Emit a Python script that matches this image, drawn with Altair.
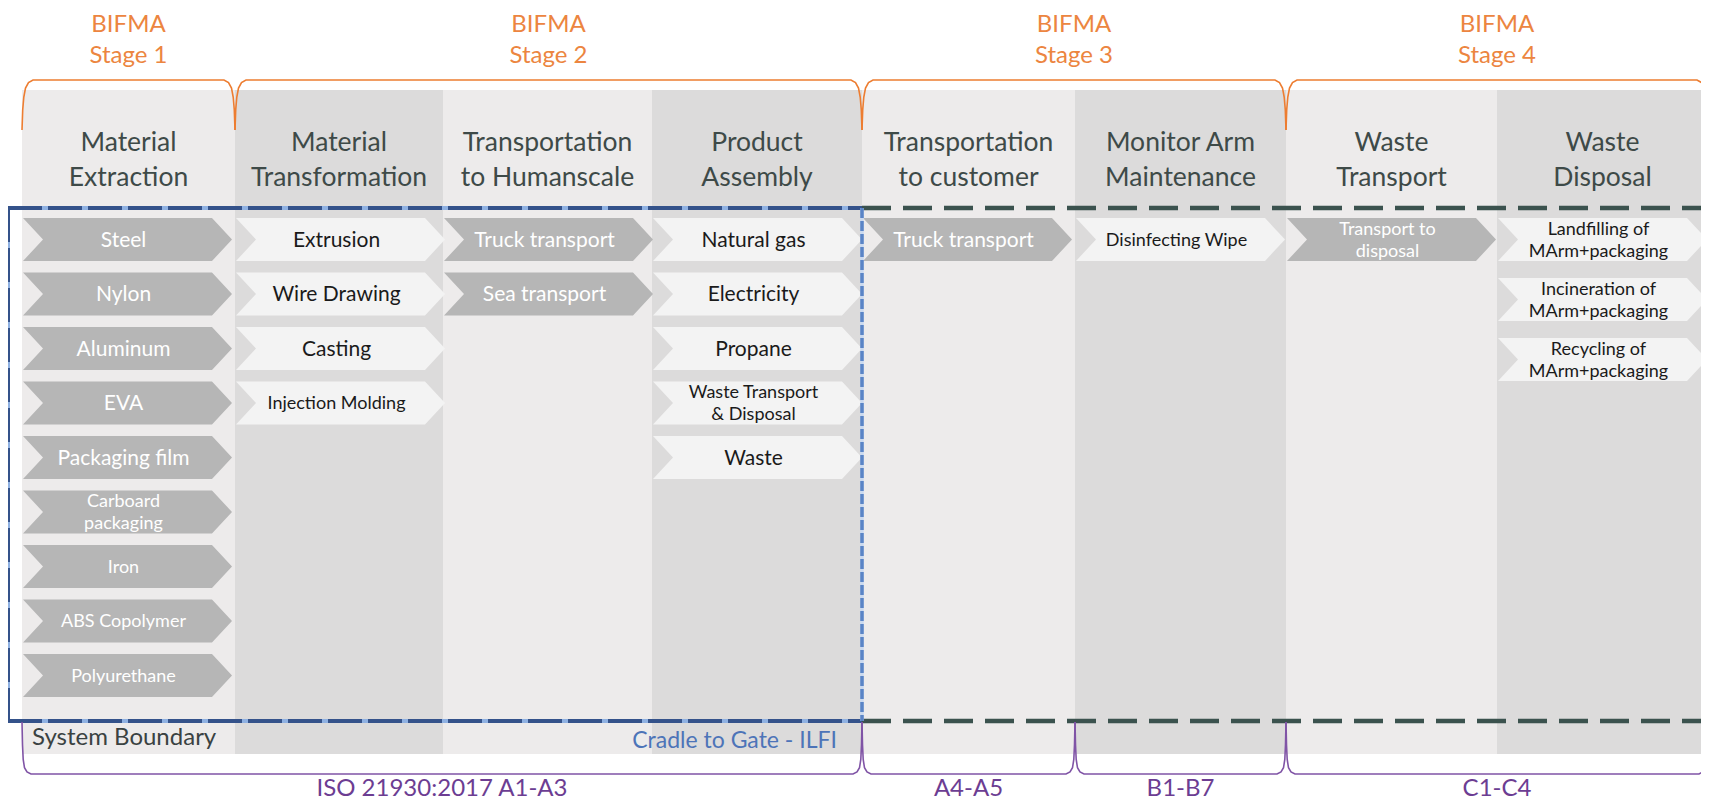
import altair as alt
import pandas as pd

# ---------------- content ----------------
STAGES = ["BIFMA\nStage 1", "BIFMA\nStage 2", "BIFMA\nStage 3", "BIFMA\nStage 4"]
STAGE_COLS = [[0], [1, 2, 3], [4, 5], [6, 7]]

COLUMN_TITLES = [
    "Material\nExtraction", "Material\nTransformation", "Transportation\nto Humanscale",
    "Product\nAssembly", "Transportation\nto customer", "Monitor Arm\nMaintenance",
    "Waste\nTransport", "Waste\nDisposal",
]

ITEMS = [
    ["Steel", "Nylon", "Aluminum", "EVA", "Packaging film", "Carboard\npackaging",
     "Iron", "ABS Copolymer", "Polyurethane"],
    ["Extrusion", "Wire Drawing", "Casting", "Injection Molding"],
    ["Truck transport", "Sea transport"],
    ["Natural gas", "Electricity", "Propane", "Waste Transport\n& Disposal", "Waste"],
    ["Truck transport"],
    ["Disinfecting Wipe"],
    ["Transport to\ndisposal"],
    ["Landfilling of\nMArm+packaging", "Incineration of\nMArm+packaging",
     "Recycling of\nMArm+packaging"],
]
SMALL_ITEMS = {"Carboard\npackaging", "Iron", "ABS Copolymer", "Polyurethane",
               "Injection Molding", "Waste Transport\n& Disposal", "Disinfecting Wipe",
               "Transport to\ndisposal", "Landfilling of\nMArm+packaging",
               "Incineration of\nMArm+packaging", "Recycling of\nMArm+packaging"}

PHASES = ["ISO 21930:2017 A1-A3", "A4-A5", "B1-B7", "C1-C4"]
PHASE_COLS = [[0, 1, 2, 3], [4], [5], [6, 7]]
ILFI_COLS = [0, 1, 2, 3]
SYSTEM_LABEL = "System Boundary"
ILFI_LABEL = "Cradle to Gate - ILFI"

# ---------------- layout (reference pixel frame) ----------------
W, H, M = 1709, 810, 8
COL_EDGES = [22, 235, 443, 652, 862, 1075, 1286, 1497, 1708]
BG_TOP, BG_BOTTOM = 90, 754
HEAD_Y, HEAD_LH = 160, 35
STAGE_Y, STAGE_LH = 40, 31
ROW0 = 239.5
ROW_PITCH = [54.5] * 7 + [60]
CHEV_W, CHEV_H, TIP = 209, 43, 20
BOX_TOP, BOX_BOTTOM, BOX_LEFT = 208, 721, 8
ORANGE_LINE, ORANGE_END = 80, 130
PURPLE_LINE, PURPLE_END = 774, 722
PHASE_Y = 789

FONT = "Lato"
ORANGE, ORANGE_TXT = "#ed7d31", "#ec8540"
PURPLE, PURPLE_TXT = "#8054a6", "#6c3d92"
BLUE_TXT = "#4d74b8"
HEAD_TXT = "#3e4a48"
BG_LIGHT, BG_DARK = "#edebeb", "#dcdbdb"
CHEV_DARK, CHEV_LIGHT = "#b6b6b6", "#f3f3f3"


def XS():
    return alt.Scale(domain=[M, W - M], nice=False, zero=False)


def YS():
    return alt.Scale(domain=[M, H - M], nice=False, zero=False, reverse=True)


def X(f="x"):
    return alt.X(f"{f}:Q", scale=XS(), axis=None)


def Y(f="y"):
    return alt.Y(f"{f}:Q", scale=YS(), axis=None)


# ---- column backgrounds ----
bg = pd.DataFrame([
    {"x": COL_EDGES[i], "x2": COL_EDGES[i + 1], "y": BG_TOP, "y2": BG_BOTTOM,
     "fill": BG_LIGHT if i % 2 == 0 else BG_DARK}
    for i in range(len(COLUMN_TITLES))
])
bg_layer = alt.Chart(bg).mark_rect(strokeWidth=0).encode(
    x=X("x"), x2="x2:Q", y=Y("y"), y2="y2:Q", color=alt.Color("fill:N", scale=None))

# ---- chevrons ----
hh = CHEV_H / CHEV_W
t = 2 * TIP / CHEV_W
CHEV_PATH = (f"M -1 {-hh:.4f} L {1 - t:.4f} {-hh:.4f} L 1 0 L {1 - t:.4f} {hh:.4f} "
             f"L -1 {hh:.4f} L {-1 + t:.4f} 0 Z")

chev_rows, text_rows = [], []


def add_text(x, cy, label, size, color, lh, align="center"):
    lines = label.split("\n")
    n = len(lines)
    for k, ln in enumerate(lines):
        text_rows.append({"x": x, "y": cy + (k - (n - 1) / 2) * lh, "text": ln,
                          "size": size, "color": color, "align": align})


for c, items in enumerate(ITEMS):
    cx = COL_EDGES[c] + 1 + CHEV_W / 2
    for r, label in enumerate(items):
        cy = ROW0 + r * ROW_PITCH[c]
        dark = c % 2 == 0
        chev_rows.append({"x": cx, "y": cy, "fill": CHEV_DARK if dark else CHEV_LIGHT})
        small = label in SMALL_ITEMS
        add_text(cx - 4, cy + 1, label, 18 if small else 21,
                 "#ffffff" if dark else "#1a1a1a", 22)

chev_layer = alt.Chart(pd.DataFrame(chev_rows)).mark_point(
    shape=CHEV_PATH, filled=True, size=CHEV_W ** 2, opacity=1, strokeWidth=0
).encode(x=X(), y=Y(), color=alt.Color("fill:N", scale=None))

# headers
for c, title in enumerate(COLUMN_TITLES):
    add_text((COL_EDGES[c] + COL_EDGES[c + 1]) / 2, HEAD_Y, title, 26.5, HEAD_TXT, HEAD_LH)

# stage labels
for s, lab in enumerate(STAGES):
    cols = STAGE_COLS[s]
    add_text((COL_EDGES[cols[0]] + COL_EDGES[cols[-1] + 1]) / 2, STAGE_Y, lab, 24,
             ORANGE_TXT, STAGE_LH)

# phase labels
for p, lab in enumerate(PHASES):
    cols = PHASE_COLS[p]
    add_text((COL_EDGES[cols[0]] + COL_EDGES[cols[-1] + 1]) / 2, PHASE_Y, lab, 24,
             PURPLE_TXT, 28)

add_text(32, 738, SYSTEM_LABEL, 24, "#3a4242", 28, align="left")
add_text(837, 741, ILFI_LABEL, 23, BLUE_TXT, 28, align="right")

texts = pd.DataFrame(text_rows)


def text_layer(align):
    sub = texts[texts["align"] == align]
    return alt.Chart(sub).mark_text(
        font=FONT, align=align, baseline="middle"
    ).encode(x=X(), y=Y(), text="text:N", size=alt.Size("size:Q", scale=None),
             color=alt.Color("color:N", scale=None))


# ---- brackets ----
def bracket(x0, x1, line_y, end_y, offsets, bid):
    pts = []
    for dx, fy in offsets:
        pts.append((x0 + dx, end_y + (line_y - end_y) * fy))
    for dx, fy in reversed(offsets):
        pts.append((x1 - dx, end_y + (line_y - end_y) * fy))
    return [{"x": px, "y": py, "o": i, "id": bid} for i, (px, py) in enumerate(pts)]


ORANGE_OFF = [(0, 0), (0.7, 0.4), (1.8, 0.66), (3.5, 0.84), (6.5, 0.95), (11, 1.0)]
PURPLE_OFF = [(0, 0), (0.5, 0.44), (1.2, 0.72), (2.5, 0.88), (5, 0.96), (9, 1.0)]

orange_rows, purple_rows = [], []
for s, cols in enumerate(STAGE_COLS):
    orange_rows += bracket(COL_EDGES[cols[0]], COL_EDGES[cols[-1] + 1], ORANGE_LINE,
                           ORANGE_END, ORANGE_OFF, f"s{s}")
for p, cols in enumerate(PHASE_COLS):
    purple_rows += bracket(COL_EDGES[cols[0]], COL_EDGES[cols[-1] + 1], PURPLE_LINE,
                           PURPLE_END, PURPLE_OFF, f"p{p}")

orange_layer = alt.Chart(pd.DataFrame(orange_rows)).mark_line(
    color=ORANGE, strokeWidth=1.6).encode(x=X(), y=Y(), order="o:Q", detail="id:N")
purple_layer = alt.Chart(pd.DataFrame(purple_rows)).mark_line(
    color=PURPLE, strokeWidth=1.6).encode(x=X(), y=Y(), order="o:Q", detail="id:N")

# ---- boundary boxes ----
ilfi_right = COL_EDGES[ILFI_COLS[-1] + 1]
blue_h = pd.DataFrame([
    {"x": BOX_LEFT, "x2": ilfi_right, "y": BOX_TOP, "y2": BOX_TOP},
    {"x": BOX_LEFT, "x2": ilfi_right, "y": BOX_BOTTOM, "y2": BOX_BOTTOM},
    {"x": BOX_LEFT, "x2": BOX_LEFT, "y": BOX_TOP, "y2": BOX_BOTTOM},
])
blue_v = pd.DataFrame([{"x": ilfi_right, "x2": ilfi_right, "y": BOX_TOP, "y2": BOX_BOTTOM}])
dark_h = pd.DataFrame([
    {"x": ilfi_right, "x2": W, "y": BOX_TOP, "y2": BOX_TOP},
    {"x": ilfi_right, "x2": W, "y": BOX_BOTTOM, "y2": BOX_BOTTOM},
])


def rule(df, **kw):
    return alt.Chart(df).mark_rule(**kw).encode(x=X("x"), x2="x2:Q", y=Y("y"), y2="y2:Q")


dark_layer = rule(dark_h, color="#3b524e", strokeWidth=4.5, strokeDash=[29, 12])
blue_base = rule(blue_h, color="#8fb1e2", strokeWidth=4)
blue_dash = rule(blue_h, color="#34528a", strokeWidth=4, strokeDash=[34, 6])
blue_vbase = rule(blue_v, color="#c9d9f0", strokeWidth=3.5)
blue_vdash = rule(blue_v, color="#5a84c6", strokeWidth=3.5, strokeDash=[10, 3])

chart = alt.layer(
    bg_layer, chev_layer, dark_layer, blue_base, blue_dash, blue_vbase, blue_vdash,
    orange_layer, purple_layer,
    text_layer("center"), text_layer("left"), text_layer("right"),
).properties(
    width=W - 2 * M, height=H - 2 * M, padding=0,
    autosize=alt.AutoSizeParams(type="none"), background="white",
).configure_view(stroke=None)

chart.save("out.html", embed_options={"renderer": "svg", "actions": False})
